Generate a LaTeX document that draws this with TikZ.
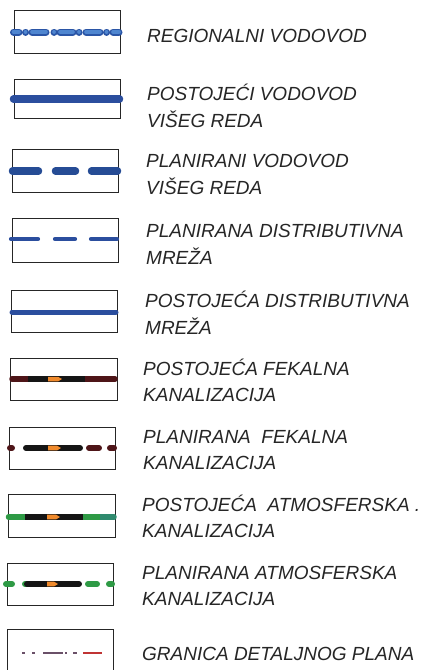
\documentclass[tikz,border=0pt]{standalone}
\usepackage{fontspec}
\setmainfont{Liberation Sans}
\begin{document}
\begin{tikzpicture}[x=1pt,y=-1pt,
  legbox/.style={draw=black!85, line width=0.9pt},
  legtext/.style={anchor=base west, inner sep=0pt, text=black!85,
    font=\fontsize{19}{19}\selectfont\itshape},
  bluebead/.style={line width=7pt, line cap=round, draw=bluedark},
  blueinner/.style={line width=3.6pt, line cap=round, draw=bluelight},
  thickblue/.style={line width=7.5pt, line cap=round, draw=bluesolid},
  thinblue/.style={line width=4.2pt, line cap=round, draw=bluesolid},
  sewer/.style={line width=5.5pt},
  thinmark/.style={line width=1.8pt},
]
\definecolor{bluedark}{HTML}{2A55A6}
\definecolor{bluelight}{HTML}{4F86D0}
\definecolor{bluesolid}{HTML}{2B4E9E}
\definecolor{darkred}{HTML}{4E1518}
\definecolor{blk}{HTML}{151515}
\definecolor{orng}{HTML}{F08A2C}
\definecolor{grn}{HTML}{2E9A45}
\definecolor{grnblue}{HTML}{2F8A6E}
\definecolor{purpgray}{HTML}{6A5068}
\definecolor{redm}{HTML}{C03434}

\useasboundingbox (0,0) rectangle (430,670);
\fill[white] (0,0) rectangle (430,670);

% ---------- row 1: regional ----------
\draw[legbox] (14,10) rectangle (120,53);
\foreach \a/\b in {13.5/19, 25.5/25.6, 32/46, 54/54.1, 60/73, 79/79.1, 86/100, 106.5/106.6, 113/119}
  \draw[bluebead] (\a,32) -- (\b,32);
\foreach \a/\b in {13.5/19, 25.5/25.6, 32/46, 54/54.1, 60/73, 79/79.1, 86/100, 106.5/106.6, 113/119}
  \draw[blueinner] (\a,32) -- (\b,32);
\node[legtext] (t1) at (147,42) {REGIONALNI VODOVOD};

% ---------- row 2 ----------
\draw[legbox] (14,79) rectangle (120,118);
\draw[thickblue] (13.5,99) -- (119.5,99);
\node[legtext] (t2a) at (147,100) {POSTOJE\'{C}I VODOVOD};
\node[legtext] (t2b) at (147,127) {VI\v{S}EG REDA};

% ---------- row 3 ----------
\draw[legbox] (12,149) rectangle (118,192);
\foreach \a/\b in {12.5/38.5, 55.5/75.5, 91.5/117.5}
  \draw[thickblue, draw=bluedark!90!black] (\a,171) -- (\b,171);
\node[legtext] (t3a) at (146,167) {PLANIRANI VODOVOD};
\node[legtext] (t3b) at (146,194) {VI\v{S}EG REDA};

% ---------- row 4 ----------
\draw[legbox] (12,218) rectangle (118,262);
\foreach \a/\b in {11/38, 55/75, 91/117}
  \draw[thinblue] (\a,239) -- (\b,239);
\node[legtext] (t4a) at (146,237) {PLANIRANA DISTRIBUTIVNA};
\node[legtext] (t4b) at (146,264) {MRE\v{Z}A};

% ---------- row 5 ----------
\draw[legbox] (11,290) rectangle (117,332);
\draw[thinblue, line width=5pt] (12,312) -- (116,312);
\node[legtext] (t5a) at (145,307) {POSTOJE\'{C}A DISTRIBUTIVNA};
\node[legtext] (t5b) at (145,334) {MRE\v{Z}A};

% ---------- row 6 ----------
\draw[legbox] (10,358) rectangle (117,400);
\draw[sewer, draw=darkred, line cap=round] (12,379) -- (115,379);
\draw[sewer, draw=blk] (28,379) -- (85,379);
\fill[orng] (48,376.8) -- (58,376.8) -- (62,379) -- (58,381.4) -- (48,381.4) -- cycle;
\node[legtext] (t6a) at (143,375) {POSTOJE\'{C}A FEKALNA};
\node[legtext] (t6b) at (143,401) {KANALIZACIJA};

% ---------- row 7 ----------
\draw[legbox] (9,427) rectangle (115,469);
\draw[sewer, line width=6pt, draw=darkred, line cap=round] (10,448) -- (12,448);
\draw[sewer, line width=6pt, draw=blk, line cap=round] (26,448) -- (80,448);
\draw[sewer, line width=6pt, draw=darkred, line cap=round] (89,448) -- (99,448);
\draw[sewer, line width=6pt, draw=darkred, line cap=round] (110,448) -- (114,448);
\fill[orng] (48,445.6) -- (57,445.6) -- (61,448) -- (57,450.4) -- (48,450.4) -- cycle;
\node[legtext] (t7a) at (143,443) {PLANIRANA\ \ FEKALNA};
\node[legtext] (t7b) at (143,469) {KANALIZACIJA};

% ---------- row 8 ----------
\draw[legbox] (8,494) rectangle (115,537);
\draw[sewer, draw=grn, line cap=round] (8.5,517) -- (83,517);
\draw[sewer, draw=grnblue, line cap=round] (83,517) -- (114,517);
\draw[sewer, draw=grn] (83,517) -- (100,517);
\draw[sewer, draw=blk] (25,517) -- (83,517);
\fill[orng] (47,514.6) -- (56,514.6) -- (60,517) -- (56,519.4) -- (47,519.4) -- cycle;
\node[legtext] (t8a) at (142,511) {POSTOJE\'{C}A\ \ ATMOSFERSKA .};
\node[legtext] (t8b) at (142,537) {KANALIZACIJA};

% ---------- row 9 ----------
\draw[legbox] (7,563) rectangle (113,605);
\draw[sewer, line width=6pt, draw=grn, line cap=round] (6,584) -- (12,584);
\draw[sewer, line width=6pt, draw=grn, line cap=round] (25,584) -- (27,584);
\draw[sewer, line width=6pt, draw=blk, line cap=round] (27,584) -- (79,584);
\draw[sewer, line width=6pt, draw=grn, line cap=round] (88,584) -- (97,584);
\draw[sewer, line width=6pt, draw=grn, line cap=round] (109,584) -- (112,584);
\fill[orng] (47,581.6) -- (54,581.6) -- (58,584) -- (54,586.4) -- (47,586.4) -- cycle;
\node[legtext] (t9a) at (142,579) {PLANIRANA ATMOSFERSKA};
\node[legtext] (t9b) at (142,605) {KANALIZACIJA};

% ---------- row 10 ----------
\draw[legbox] (7,629) rectangle (113,675);
\foreach \a/\b in {22/25, 32/35, 43/63, 65/67, 73/77}
  \draw[thinmark, draw=purpgray] (\a,653) -- (\b,653);
\draw[thinmark, draw=redm] (83,653) -- (102,653);
\node[legtext] (t10) at (142,660) {GRANICA DETALJNOG PLANA};
\end{tikzpicture}
\end{document}
